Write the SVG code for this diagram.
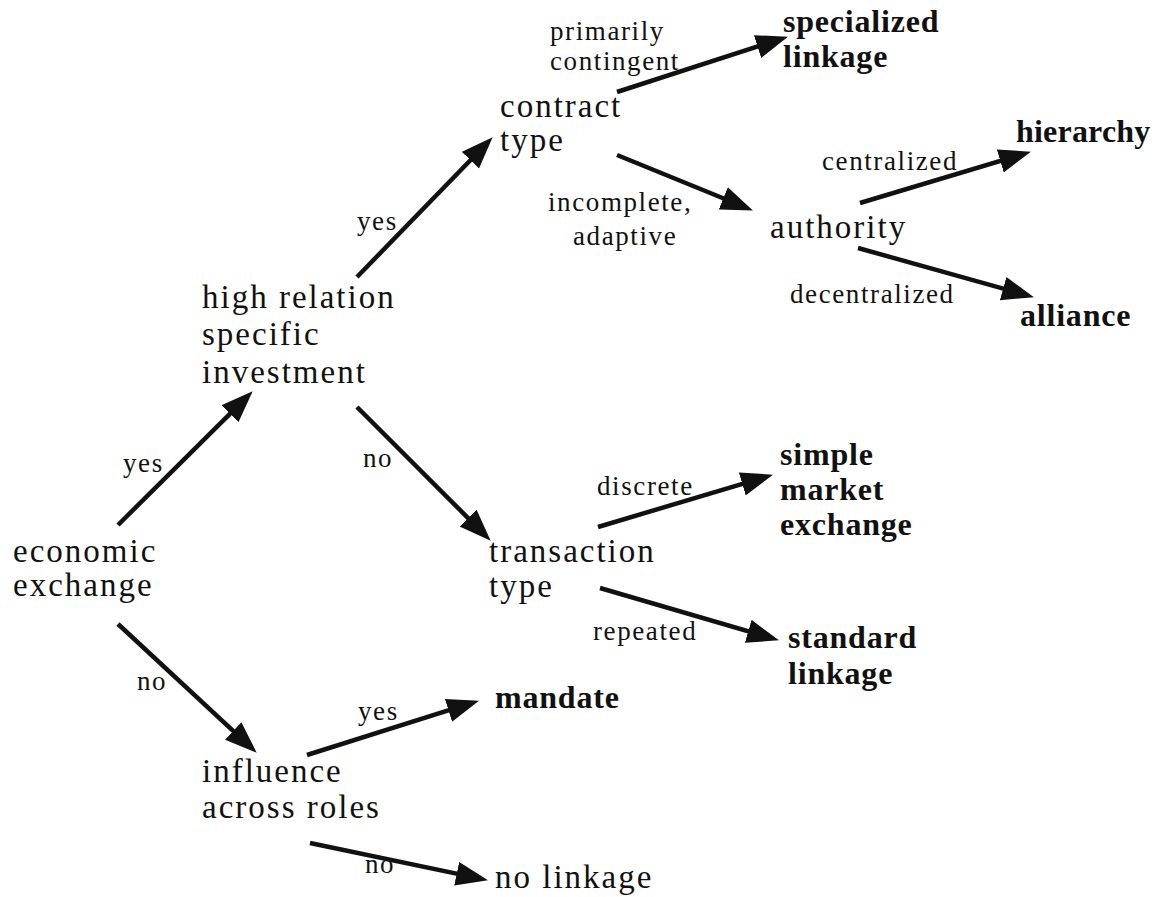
<svg xmlns="http://www.w3.org/2000/svg" width="1158" height="897" viewBox="0 0 1158 897">
<style>
text{font-family:"Liberation Serif","Times New Roman",serif;fill:#111}
.n{font-size:33px;letter-spacing:2px}
.l{font-size:27px;letter-spacing:1.6px}
.b{font-size:32px;font-weight:bold;letter-spacing:0.8px}
.c line{stroke:#111;stroke-width:4.5;marker-end:url(#ah)}
</style>
<defs>
<marker id="ah" markerUnits="userSpaceOnUse" markerWidth="34" markerHeight="26" refX="23" refY="12" orient="auto">
<path d="M0,0 L32,12 L0,24 z" fill="#111"/>
</marker>
</defs>
<rect width="1158" height="897" fill="#fff"/>
<g class="c" id="connectors">
<line x1="118" y1="525" x2="246.3" y2="397.6"/>
<line x1="357" y1="407" x2="484.3" y2="534.3"/>
<line x1="357" y1="277" x2="486.4" y2="143.7"/>
<line x1="617" y1="92" x2="779.4" y2="39.5"/>
<line x1="617" y1="155" x2="744.6" y2="207"/>
<line x1="860" y1="203" x2="1022.3" y2="154.3"/>
<line x1="858" y1="248" x2="1025.3" y2="294.8"/>
<line x1="598" y1="527" x2="764.3" y2="477.3"/>
<line x1="600" y1="588" x2="770.3" y2="637.8"/>
<line x1="118" y1="624" x2="250.1" y2="746.6"/>
<line x1="307" y1="755" x2="470.4" y2="703.4"/>
<line x1="310" y1="843" x2="479.2" y2="878.4"/>
</g>
<g id="labels">
<text class="l" x="550" y="40">primarily</text>
<text class="l" x="550" y="70">contingent</text>
<text class="l" x="822" y="170">centralized</text>
<text class="l" x="548" y="211">incomplete,</text>
<text class="l" x="573" y="245">adaptive</text>
<text class="l" x="357" y="230">yes</text>
<text class="l" x="790" y="303">decentralized</text>
<text class="l" x="123" y="472">yes</text>
<text class="l" x="363" y="467">no</text>
<text class="l" x="597" y="495">discrete</text>
<text class="l" x="593" y="640">repeated</text>
<text class="l" x="137" y="690">no</text>
<text class="l" x="358" y="720">yes</text>
<text class="l" x="365" y="873">no</text>
</g>
<g id="economic-exchange"><text class="n" x="13" y="562">economic</text><text class="n" x="13" y="596">exchange</text></g>
<g id="high-relation"><text class="n" x="202" y="308">high relation</text><text class="n" x="202" y="345">specific</text><text class="n" x="202" y="383">investment</text></g>
<g id="contract-type"><text class="n" x="500" y="117">contract</text><text class="n" x="500" y="151">type</text></g>
<g id="authority"><text class="n" x="770" y="238">authority</text></g>
<g id="transaction-type"><text class="n" x="489" y="562">transaction</text><text class="n" x="489" y="597">type</text></g>
<g id="influence"><text class="n" x="202" y="782">influence</text><text class="n" x="202" y="818">across roles</text></g>
<g id="specialized-linkage"><text class="b" x="783" y="32">specialized</text><text class="b" x="783" y="67">linkage</text></g>
<g id="hierarchy"><text class="b" x="1016" y="142" style="letter-spacing:0.2px">hierarchy</text></g>
<g id="alliance"><text class="b" x="1020" y="326">alliance</text></g>
<g id="simple-market-exchange"><text class="b" x="780" y="465">simple</text><text class="b" x="780" y="500">market</text><text class="b" x="780" y="535">exchange</text></g>
<g id="standard-linkage"><text class="b" x="788" y="648">standard</text><text class="b" x="788" y="684">linkage</text></g>
<g id="mandate"><text class="b" x="495" y="708">mandate</text></g>
<g id="no-linkage"><text class="n" x="495" y="888">no linkage</text></g>
</svg>
